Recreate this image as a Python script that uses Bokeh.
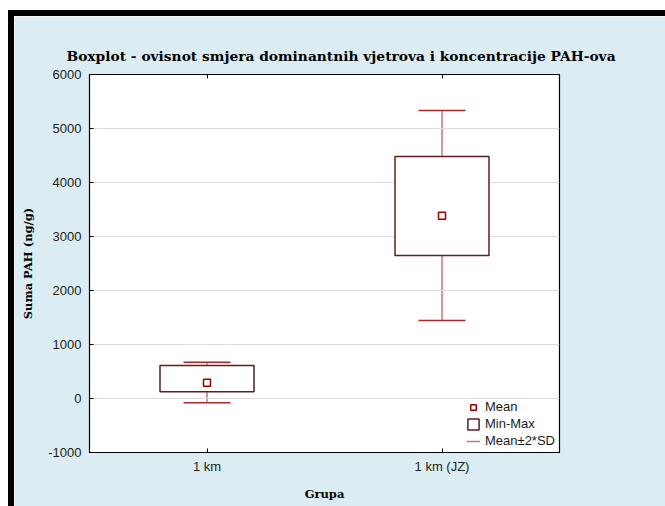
from bokeh.plotting import figure
from bokeh.models import (ColumnDataSource, Legend, LegendItem, CategoricalAxis,
                          Range1d, FactorRange, Div)
from bokeh.layouts import column, row
from bokeh.embed import file_html
from bokeh.resources import INLINE

groups = ["1 km", "1 km (JZ)"]
mean_vals = [290, 3383]
min_vals = [123, 2648]
max_vals = [611, 4481]
sd_low = [-80, 1444]
sd_high = [673, 5333]
y_ticks = [-1000, 0, 1000, 2000, 3000, 4000, 5000, 6000]
title_text = "Boxplot - ovisnot smjera dominantnih vjetrova i koncentracije PAH-ova"
legend_labels = ["Mean", "Min-Max", "Mean±2*SD"]

BG = "#DBEDF3"
src = ColumnDataSource(dict(g=groups, mean=mean_vals, lo=min_vals, hi=max_vals,
                            sdl=sd_low, sdh=sd_high))

p = figure(width=651, height=490, x_range=FactorRange(*groups), y_range=Range1d(-1000, 6000),
           output_backend="svg", toolbar_location=None, title=title_text,
           min_border_left=75, min_border_right=106, min_border_top=58, min_border_bottom=54)
p.background_fill_color = "white"
p.border_fill_color = BG
p.outline_line_color = "black"
p.outline_line_width = 1.2

p.title.text_font = "DejaVu Serif"
p.title.text_font_style = "bold"
p.title.text_font_size = "13.8px"
p.title.align = "left"
p.title.offset = -23
p.title.standoff = 21
p.title.text_color = "black"

p.xgrid.grid_line_color = None
p.ygrid.grid_line_color = "#DDDDDD"
p.ygrid.grid_line_width = 1

def style_axis(ax, labels=True):
    ax.major_tick_in = 4
    ax.major_tick_out = 0
    ax.minor_tick_line_color = None
    ax.axis_line_color = None
    ax.major_tick_line_color = "black"
    ax.major_label_text_font = "Liberation Sans"
    ax.major_label_text_font_size = "13px"
    ax.major_label_text_color = "#222222" if labels else None

style_axis(p.xaxis[0])
style_axis(p.yaxis[0])
p.yaxis[0].ticker = y_ticks
p.yaxis[0].major_label_overrides = {t: str(t) for t in y_ticks}
p.yaxis[0].major_label_standoff = 8
p.xaxis[0].major_label_standoff = 6
p.xaxis[0].axis_label = "Grupa"
p.yaxis[0].axis_label = "Suma PAH (ng/g)"
for ax in (p.xaxis[0], p.yaxis[0]):
    ax.axis_label_text_font = "DejaVu Serif"
    ax.axis_label_text_font_style = "bold"
    ax.axis_label_text_font_size = "11.5px"
    ax.axis_label_text_color = "black"
p.xaxis[0].axis_label_standoff = 10
p.yaxis[0].axis_label_standoff = 10

tax = CategoricalAxis()
style_axis(tax, labels=False)
p.add_layout(tax, "above")

# whisker stems (mean ± 2*SD), drawn beneath the boxes
stem_r = p.segment(x0="g", y0="sdl", x1="g", y1="sdh", source=src,
                   line_color="#C87878", line_width=1.5, level="underlay")
# whisker caps
p.scatter(x="g", y="sdh", source=src, marker="dash", size=47,
          line_color="#A52A2A", line_width=1.5)
p.scatter(x="g", y="sdl", source=src, marker="dash", size=47,
          line_color="#A52A2A", line_width=1.5)

box_r = p.vbar(x="g", width=0.4, top="hi", bottom="lo", source=src,
               fill_color="white", line_color="#5B1F1F", line_width=1.5)
mean_r = p.scatter(x="g", y="mean", source=src, marker="square", size=7,
                   fill_color="white", line_color="#990000", line_width=1.5)

legend = Legend(items=[LegendItem(label=legend_labels[0], renderers=[mean_r]),
                       LegendItem(label=legend_labels[1], renderers=[box_r]),
                       LegendItem(label=legend_labels[2], renderers=[stem_r])],
                location="bottom_right", background_fill_alpha=0, border_line_color=None,
                padding=4, margin=4, spacing=2, glyph_width=14, glyph_height=14,
                label_height=14, label_standoff=5,
                label_text_font="Liberation Sans", label_text_font_size="13px",
                label_text_color="#1A1A1A")
p.add_layout(legend, "center")

top_gap = Div(width=665, height=10, margin=0)
top_row = row(Div(width=8, height=6, margin=0),
              Div(width=657, height=6, margin=0, styles={"background-color": "black"}),
              spacing=0)
main_row = row(Div(width=8, height=490, margin=0),
               Div(width=6, height=490, margin=0, styles={"background-color": "black"}),
               p, spacing=0)
layout = column(top_gap, top_row, main_row, spacing=0)

html = file_html(layout, INLINE)
open("out.html", "w").write(html)
